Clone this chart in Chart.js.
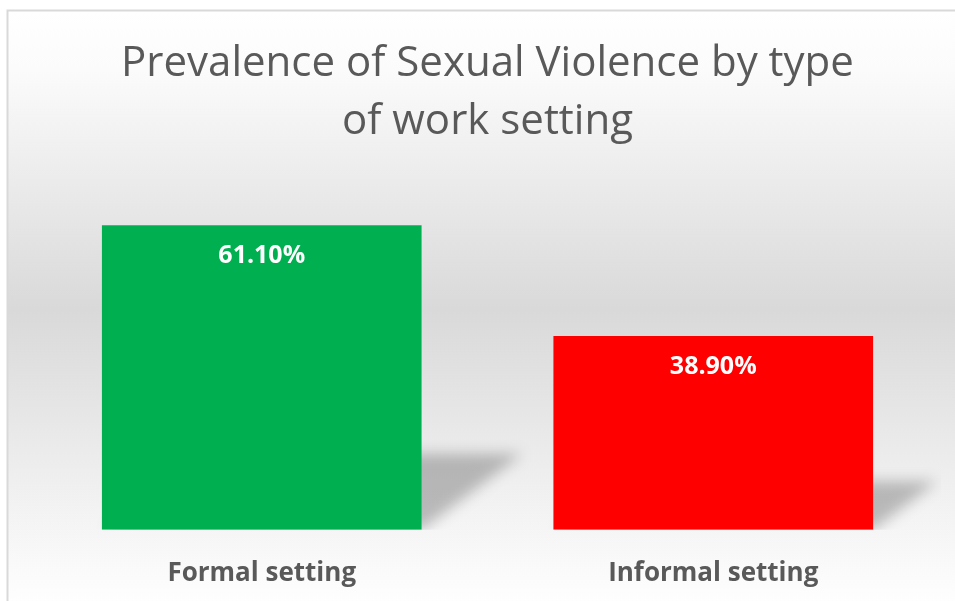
<!DOCTYPE html>
<html>
<head>
<meta charset="utf-8">
<script src="https://cdn.jsdelivr.net/npm/chart.js@4"></script>
<style>
  html, body { margin: 0; padding: 0; background: #fff; }
  #wrap { width: 955px; height: 601px; }
</style>
</head>
<body>
<div id="wrap"><canvas id="ourChart"></canvas></div>
<script>
let categories = ["Formal setting", "Informal setting"];
let values = [61.1, 38.9];
let barColors = ["#00B050", "#FF0000"];
let titleLines = ["Prevalence of Sexual Violence by type", "of work setting"];

// excel-like chart box with grey band gradient
const boxBackground = {
    id: 'boxBackground',
    beforeDraw(chart) {
        let ctx = chart.ctx;
        ctx.save();
        let g = ctx.createLinearGradient(0, 10, 0, 610);
        g.addColorStop(0, '#ffffff');
        g.addColorStop(0.1, '#fbfbfb');
        g.addColorStop(0.5, '#d9d9d9');
        g.addColorStop(0.85, '#f4f4f4');
        g.addColorStop(1, '#ffffff');
        ctx.fillStyle = g;
        ctx.fillRect(7.5, 10.5, 960, 600);
        ctx.strokeStyle = '#d9d9d9';
        ctx.lineWidth = 2;
        ctx.strokeRect(7.5, 10.5, 960, 600);
        ctx.restore();
    }
};

// perspective shadow behind each bar
const barShadow = {
    id: 'barShadow',
    beforeDatasetsDraw(chart) {
        let ctx = chart.ctx;
        let area = chart.chartArea;
        ctx.save();
        ctx.beginPath();
        ctx.rect(area.left, area.top, area.right - area.left + 2, area.bottom - area.top);
        ctx.clip();
        ctx.filter = 'blur(7px)';
        ctx.fillStyle = 'rgba(0,0,0,0.24)';
        chart.getDatasetMeta(0).data.forEach(bar => {
            let h = bar.base - bar.y;
            let left = bar.x - bar.width / 2;
            let right = bar.x + bar.width / 2;
            let sh = h * 0.25;
            let dx = h * 0.33;
            ctx.beginPath();
            ctx.moveTo(left + 4, bar.base);
            ctx.lineTo(right, bar.base);
            ctx.lineTo(right + dx, bar.base - sh);
            ctx.lineTo(left + dx, bar.base - sh);
            ctx.closePath();
            ctx.fill();
        });
        ctx.restore();
    }
};

const valueLabels = {
    id: 'valueLabels',
    afterDatasetsDraw(chart) {
        let ctx = chart.ctx;
        ctx.save();
        ctx.font = 'bold 25px "Open Sans"';
        ctx.fillStyle = '#ffffff';
        ctx.textAlign = 'center';
        ctx.textBaseline = 'middle';
        chart.getDatasetMeta(0).data.forEach((bar, i) => {
            ctx.fillText(values[i].toFixed(2) + '%', bar.x, bar.y + 31);
        });
        ctx.restore();
    }
};

new Chart(document.getElementById('ourChart'), {
    type: 'bar',
    data: {
        labels: categories,
        datasets: [
            {
                data: values,
                backgroundColor: barColors,
                borderWidth: 0,
                categoryPercentage: 1,
                barPercentage: 0.708,
            }
        ]
    },
    options: {
        responsive: true,
        maintainAspectRatio: false,
        animation: false,
        layout: {
            padding: { left: 36, right: 16, top: 0, bottom: -16 }
        },
        scales: {
            x: {
                grid: { display: false, drawTicks: false },
                border: { display: false },
                ticks: {
                    color: '#595959',
                    padding: 28,
                    font: { family: '"Open Sans"', size: 26, weight: 'bold' }
                }
            },
            y: {
                display: false,
                min: 0,
                max: 70,
            }
        },
        plugins: {
            legend: { display: false },
            tooltip: { enabled: false },
            title: {
                display: true,
                text: titleLines,
                color: '#595959',
                padding: { top: 35, bottom: 30 },
                font: { family: '"Open Sans"', size: 42, weight: 'normal', lineHeight: '58px' }
            }
        }
    },
    plugins: [boxBackground, barShadow, valueLabels]
});
</script>
</body>
</html>
